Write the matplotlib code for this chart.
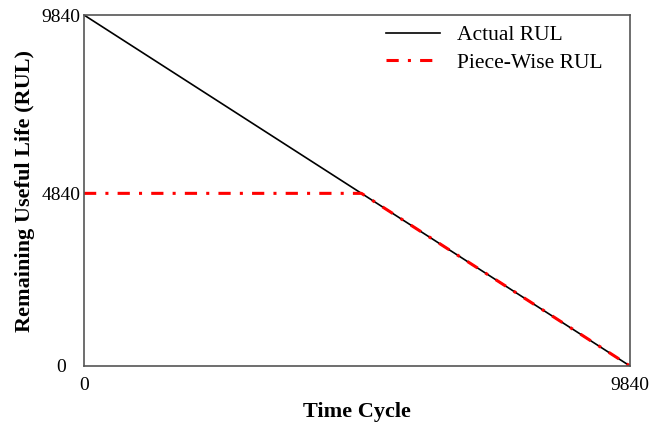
import numpy as np
import matplotlib.pyplot as plt

plt.rcParams['font.family'] = ['Liberation Serif', 'DejaVu Serif']

# run length and the cap on the piece-wise target
total_cycles = 9840
rul_cap = 4840

time_actual = [0, total_cycles]
rul_actual = [total_cycles, 0]

# piece-wise target: flat at the cap, then linear decay
knee = total_cycles - rul_cap
time_pw = [0, knee, total_cycles]
rul_pw = [rul_cap, rul_cap, 0]

fig = plt.figure(figsize=(6.54, 4.24), dpi=100)
ax = fig.add_axes([84 / 654, 1 - 366 / 424, 546 / 654, 351 / 424])

ax.plot(time_actual, rul_actual, color='k', lw=1.2, label='Actual RUL')
ax.plot(time_pw, rul_pw, color='red', lw=2.2, ls=(0, (4, 3, 1, 3)),
        label='Piece-Wise RUL')

ax.set_xlim(0, total_cycles)
ax.set_ylim(0, total_cycles)
ax.set_xticks([0, total_cycles])
ax.set_yticks([0, rul_cap, total_cycles])
ax.tick_params(length=0, labelsize=14)
ax.tick_params(axis='x', pad=8)
ax.tick_params(axis='y', pad=16.5)
for lbl in ax.get_xticklabels() + ax.get_yticklabels():
    lbl.set_horizontalalignment('center')
for s in ax.spines.values():
    s.set_color('#555555')
    s.set_linewidth(1.2)

ax.set_xlabel('Time Cycle', fontsize=16, fontweight='bold', labelpad=6)
ax.set_ylabel('Remaining Useful Life (RUL)', fontsize=16, fontweight='bold',
              labelpad=5)

ax.legend(loc='upper right', frameon=False, fontsize=15.5, handlelength=2.5,
          bbox_to_anchor=(1 - 12 / 546, 1 + 5 / 351),
          borderaxespad=0.3, labelspacing=0.35)

fig.savefig('out.png', dpi=100)
